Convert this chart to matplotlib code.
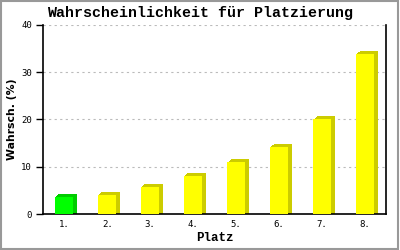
import matplotlib
matplotlib.use('Agg')
import matplotlib.pyplot as plt
from matplotlib.patches import Rectangle
import numpy as np

# Data
places = ['1.', '2.', '3.', '4.', '5.', '6.', '7.', '8.']
probs = [3.7, 4.1, 5.8, 8.1, 10.9, 14.2, 20.0, 33.9]
front_colors = ['#00ff00'] + ['#ffff00'] * 7
side_colors = ['#00cc00'] + ['#cccc00'] * 7
y_ticks = [0, 10, 20, 30, 40]

title = 'Wahrscheinlichkeit für Platzierung'
xlabel = 'Platz'
ylabel = 'Wahrsch. (%)'

fig = plt.figure(figsize=(4, 2.5), dpi=100)
ax = fig.add_axes([0.1075, 0.144, 0.8575, 0.756])

x = np.arange(len(places))
w = 0.42
vals = np.array(probs)

# 3d-ish shadow: stepped copies behind the front face
dx = 1.0 / 42.9
dy = 1.0 / 4.725
for k in range(4, 0, -1):
    ax.bar(x + k * dx, vals + k * dy * 0.75, width=w, color=side_colors,
           linewidth=0, zorder=2)
ax.bar(x, vals, width=w, color=front_colors, linewidth=0, zorder=3)

ax.set_xlim(-0.5, 7.5)
ax.set_ylim(0, 40)
ax.set_xticks(x)
ax.set_xticklabels(places)
ax.set_yticks(y_ticks)

for lab in ax.get_xticklabels() + ax.get_yticklabels():
    lab.set_fontfamily('DejaVu Sans Mono')
    lab.set_fontsize(6.5)

ax.tick_params(axis='x', length=0, pad=4.5)
ax.tick_params(axis='y', length=5, width=1, pad=3, direction='out')

ax.yaxis.grid(True, linestyle=(0, (2, 3)), color='#bbbbbb', linewidth=0.8)
ax.set_axisbelow(True)

ax.spines['top'].set_visible(False)
for s in ['left', 'bottom', 'right']:
    ax.spines[s].set_linewidth(1.2)
    ax.spines[s].set_color('black')

ax.set_xlabel(xlabel, family='Liberation Mono', weight='bold', fontsize=9, labelpad=2)
ax.set_ylabel(ylabel, family='DejaVu Sans', weight='bold', fontsize=7.8, labelpad=3)

fig.text(0.5, 0.948, title, ha='center', va='center',
         family='Liberation Mono', weight='bold', fontsize=10.8)

# grey frame around the picture
fig.patches.append(Rectangle((0.002, 0.004), 0.994, 0.992, transform=fig.transFigure,
                             fill=False, edgecolor='#999999', linewidth=1.5))

fig.savefig('out.png', dpi=100, facecolor='white')
